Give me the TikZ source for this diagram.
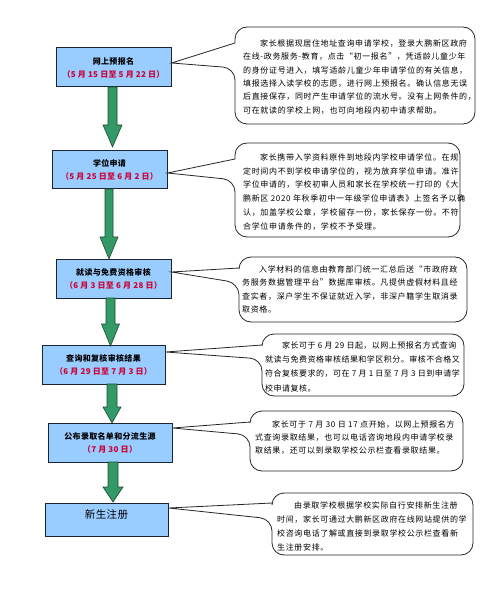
\documentclass[tikz,border=0pt]{standalone}
\usepackage{fontspec}
\setmainfont{Noto Sans CJK SC}
\newfontfamily\cfont{Noto Sans CJK SC}[LetterSpace=8]
\newfontfamily\cfontn{Noto Sans CJK SC}[LetterSpace=6]
\newfontfamily\tfont{Noto Sans CJK SC}[LetterSpace=4]
\usetikzlibrary{calc}
\definecolor{boxfill}{HTML}{99CCFF}
\definecolor{boxline}{HTML}{1A2433}
\definecolor{datered}{HTML}{CC0033}
\definecolor{arrowfill}{HTML}{339966}
\definecolor{arrowline}{HTML}{1E4D2B}
\tikzset{
  box/.style={draw=boxline, line width=1pt, fill=boxfill, inner sep=0pt, align=center,
    font=\tfont\bfseries\fontsize{8}{13}\selectfont},
  calloutshape/.style={draw=black!85, line width=0.8pt, fill=white},
  ctext/.style={anchor=north west, inner sep=0pt, align=left,
    font=\cfont\fontsize{8}{#1}\selectfont},
  barrowstyle/.style={draw=arrowline, line width=0.6pt, fill=arrowfill},
}
\newcommand\mycallout[7]{%
  \draw[calloutshape] (#1,#5) [rounded corners=12pt] -- (#1,#2) -- (#3,#2) -- (#3,#4) -- (#1,#4) -- (#1,#6) [sharp corners] -- #7 -- cycle;}
\newcommand\myblockarrow[6]{%
  \draw[barrowstyle] (#1-#5,#2) -- (#1+#5,#2) -- (#1+#5,#3) -- (#1+#6,#3) -- (#1,#4) -- (#1-#6,#3) -- (#1-#5,#3) -- cycle;}
\begin{document}
\begin{tikzpicture}[x=1pt,y=-1pt]
\useasboundingbox (0,0) rectangle (500,593);
% boxes
\node[box, minimum width=115pt, minimum height=39pt] (b1) at (113.5,67.5) {网上预报名\\{\color{datered}（5 月 15 日至 5 月 22 日）}};
\node[box, minimum width=115pt, minimum height=38pt] (b2) at (109.5,170) {学位申请\\{\color{datered}（5 月 25 日至 6 月 2 日）}};
\node[box, minimum width=115pt, minimum height=39pt] (b3) at (113.5,278.5) {就读与免费资格审核\\{\color{datered}（6 月 3 日至 6 月 28 日）}};
\node[box, minimum width=123pt, minimum height=39pt] (b4) at (103.5,364.5) {查询和复核审核结果\\{\color{datered}（6 月 29 日至 7 月 3 日）}};
\node[box, minimum width=124pt, minimum height=39pt] (b5) at (110,442.5) {公布录取名单和分流生源\\{\color{datered}（7 月 30 日）}};
\node[box, minimum width=123pt, minimum height=33pt] (b6) at (106.5,519.5) {};
\node[inner sep=0pt, font=\tfont\fontsize{10.5}{12}\selectfont] (b6t) at (106.5,515) {新生注册};
% block arrows
\myblockarrow{112.5}{87}{125}{147}{4.5}{9.5}
\myblockarrow{109}{189}{237}{259}{4}{9}
\myblockarrow{110.5}{298}{324}{346}{4.5}{9}
\myblockarrow{112}{384}{407}{423}{5}{9}
\myblockarrow{113}{462}{487}{502}{5}{10}
% callouts
\mycallout{235}{27}{475}{124}{43}{68}{([yshift=4.5pt]b1.east)}
\mycallout{235}{143}{460}{237}{159}{180}{([yshift=-3pt]b2.east)}
\mycallout{239}{257}{467}{322}{268}{283}{([yshift=6.5pt]b3.east)}
\mycallout{262}{334}{464}{396}{345}{359}{([yshift=12.5pt]b4.east)}
\mycallout{250}{411}{463}{471}{422}{435}{([yshift=14.5pt]b5.east)}
\mycallout{272}{493}{473}{555}{503}{519}{([yshift=11.5pt]b6.east)}
% callout texts
\node[ctext=13.4] (t1) at (243,39.4) {\hspace*{17pt}家长根据现居住地址查询申请学校，登录大鹏新区政府\\
在线-政务服务-教育，点击“初一报名”，凭适龄儿童少年\\
的身份证号进入，填写适龄儿童少年申请学位的有关信息，\\
填报选择入读学校的志愿，进行网上预报名。确认信息无误\\
后直接保存，同时产生申请学位的流水号。没有上网条件的，\\
可在就读的学校上网，也可向地段内初中请求帮助。};
\node[ctext=13.8] (t2) at (243,153.4) {\hspace*{17pt}家长携带入学资料原件到地段内学校申请学位。在规\\
定时间内不到学校申请学位的，视为放弃学位申请。准许\\
学位申请的，学校初审人员和家长在学校统一打印的《大\\
鹏新区 2020 年秋季初中一年级学位申请表》上签名予以确\\
认，加盖学校公章，学校留存一份，家长保存一份。不符\\
合学位申请条件的，学校不予受理。};
\node[ctext=13.4] (t3) at (242,265.4) {\hspace*{17pt}入学材料的信息由教育部门统一汇总后送“市政府政\\
务服务数据管理平台”数据库审核。凡提供虚假材料且经\\
查实者，深户学生不保证就近入学，非深户籍学生取消录\\
取资格。};
\node[ctext=14.3, font=\cfontn\fontsize{8}{14.3}\selectfont] (t4) at (265,341.4) {\hspace*{17pt}家长可于 6 月 29 日起，以网上预报名方式查询\\
就读与免费资格审核结果和学区积分。审核不合格又\\
符合复核要求的，可在 7 月 1 日至 7 月 3 日到申请学\\
校申请复核。};
\node[ctext=13] (t5) at (255,420.4) {\hspace*{17pt}家长可于 7 月 30 日 17 点开始，以网上预报名方\\
式查询录取结果，也可以电话咨询地段内申请学校录\\
取结果，还可以到录取学校公示栏查看录取结果。};
\node[ctext=14] (t6) at (277,501.4) {\hspace*{17pt}由录取学校根据学校实际自行安排新生注册\\
时间，家长可通过大鹏新区政府在线网站提供的学\\
校咨询电话了解或直接到录取学校公示栏查看新\\
生注册安排。};
\end{tikzpicture}
\end{document}
